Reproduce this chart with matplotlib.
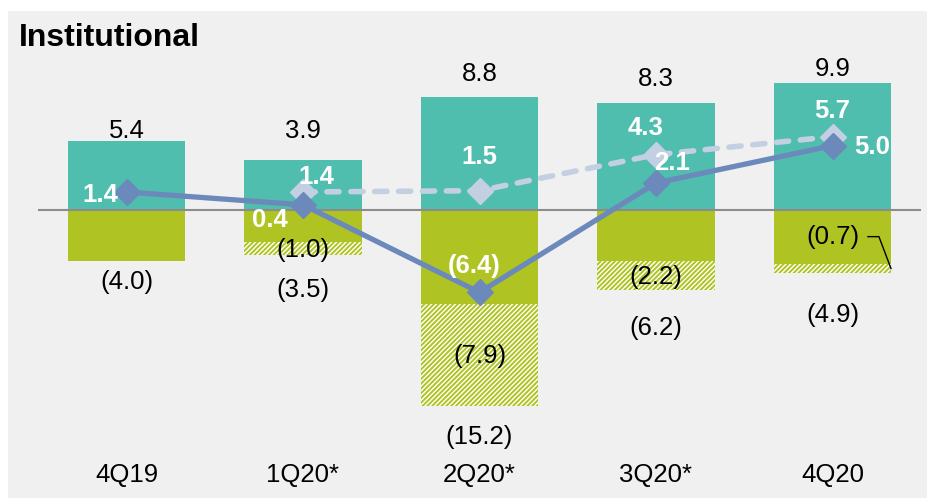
import matplotlib
matplotlib.use("Agg")
import matplotlib.pyplot as plt
from matplotlib.patches import Rectangle
import numpy as np

plt.rcParams['font.family'] = ['Liberation Sans', 'DejaVu Sans']
plt.rcParams['hatch.linewidth'] = 1.4

# ---- data ----
categories = ["4Q19", "1Q20*", "2Q20*", "3Q20*", "4Q20"]
revenues = [5.4, 3.9, 8.8, 8.3, 9.9]
costs = [-4.0, -2.5, -7.3, -4.0, -4.2]
provisions = [0.0, -1.0, -7.9, -2.2, -0.7]
total_costs = [-4.0, -3.5, -15.2, -6.2, -4.9]
result = [1.4, 0.4, -6.4, 2.1, 5.0]
result_adj = [np.nan, 1.4, 1.5, 4.3, 5.7]

# ---- layout / style ----
teal = "#50BEAE"
olive = "#AFC423"
blue = "#6B89BA"
light_blue = "#C3CFE2"
bg = "#F0F0F0"

top_pad = [0.71, 2.21, 1.78, 1.84, 1.08]
bottom_pad = [-1.57, -2.74, -2.41, -2.99, -3.26]
res_off = [(-0.15, -0.26), (-0.185, -1.18), (-0.031, 2.06), (0.09, 1.53), (0.227, -0.08)]
adj_off = [None, (0.075, 1.13), (0.0, 2.59), (-0.057, 2.05), (0.0, 2.03)]

fig = plt.figure(figsize=(9.28, 4.98), dpi=100)
fig.patch.set_facecolor("white")
fig.add_artist(Rectangle((8 / 928, 0), 920 / 928, 487 / 498, transform=fig.transFigure,
                         facecolor=bg, edgecolor="none", zorder=0))

ax = fig.add_axes([38.25 / 928, 38 / 498, 882.5 / 928, 420 / 498])
ax.set_facecolor("none")
x = np.arange(len(categories))
w = 0.663

ax.bar(x, revenues, width=w, color=teal, linewidth=0, zorder=2)
ax.bar(x, costs, width=w, color=olive, linewidth=0, zorder=2)
ax.bar(x, provisions, width=w, bottom=costs, facecolor="white", edgecolor=olive,
       hatch="///////", linewidth=0, zorder=2)

ax.axhline(0, color="#8C8C8C", lw=1.5, zorder=3)

ax.plot(x, result_adj, color=light_blue, lw=4.0, dashes=(2.2, 2.1),
        dash_capstyle="round", marker="D", markersize=13.5, zorder=4)
ax.plot(x, result, color=blue, lw=3.8, marker="D", markersize=13.5, zorder=5)

fs = 18.5
for i in range(len(categories)):
    ax.text(x[i], revenues[i] + top_pad[i], f"{revenues[i]:.1f}", ha="center", va="center",
            fontsize=fs, zorder=6)
    ax.text(x[i], total_costs[i] + bottom_pad[i], f"({abs(total_costs[i]):.1f})",
            ha="center", va="center", fontsize=fs, zorder=6)
    if provisions[i] != 0 and i != 4:
        mid = costs[i] + provisions[i] / 2 - 0.1
        ax.text(x[i], mid, f"({abs(provisions[i]):.1f})", ha="center", va="center",
                fontsize=fs, zorder=6)
    dx, dy = res_off[i]
    v = result[i]
    s = f"({abs(v):.1f})" if v < 0 else f"{v:.1f}"
    ax.text(x[i] + dx, v + dy, s, ha="center", va="center", fontsize=18.5,
            fontweight="bold", color="white", zorder=7)
    if adj_off[i] is not None:
        dx, dy = adj_off[i]
        ax.text(x[i] + dx, result_adj[i] + dy, f"{result_adj[i]:.1f}", ha="center",
                va="center", fontsize=18.5, fontweight="bold", color="white", zorder=7)

# 4Q20 provision label with leader
ax.text(x[4], -2.1, f"({abs(provisions[4]):.1f})", ha="center", va="center", fontsize=fs, zorder=6)
ax.plot([x[4] + 0.201, x[4] + 0.263, x[4] + w / 2], [-2.07, -2.07, costs[4] + provisions[4] / 2],
        color="black", lw=1, zorder=6)

ax.set_xlim(-0.5, 4.5)
ax.set_ylim(-250 / 12.87, 170 / 12.87)
ax.set_yticks([])
ax.set_xticks(x)
ax.set_xticklabels(categories, fontsize=18.5)
ax.tick_params(axis="x", length=0, pad=2)
for sp in ax.spines.values():
    sp.set_visible(False)

fig.text(19 / 928, 1 - 38.5 / 498, "Institutional", fontsize=23, fontweight="bold",
         ha="left", va="center")

fig.savefig("out.png", dpi=100, facecolor="white")
